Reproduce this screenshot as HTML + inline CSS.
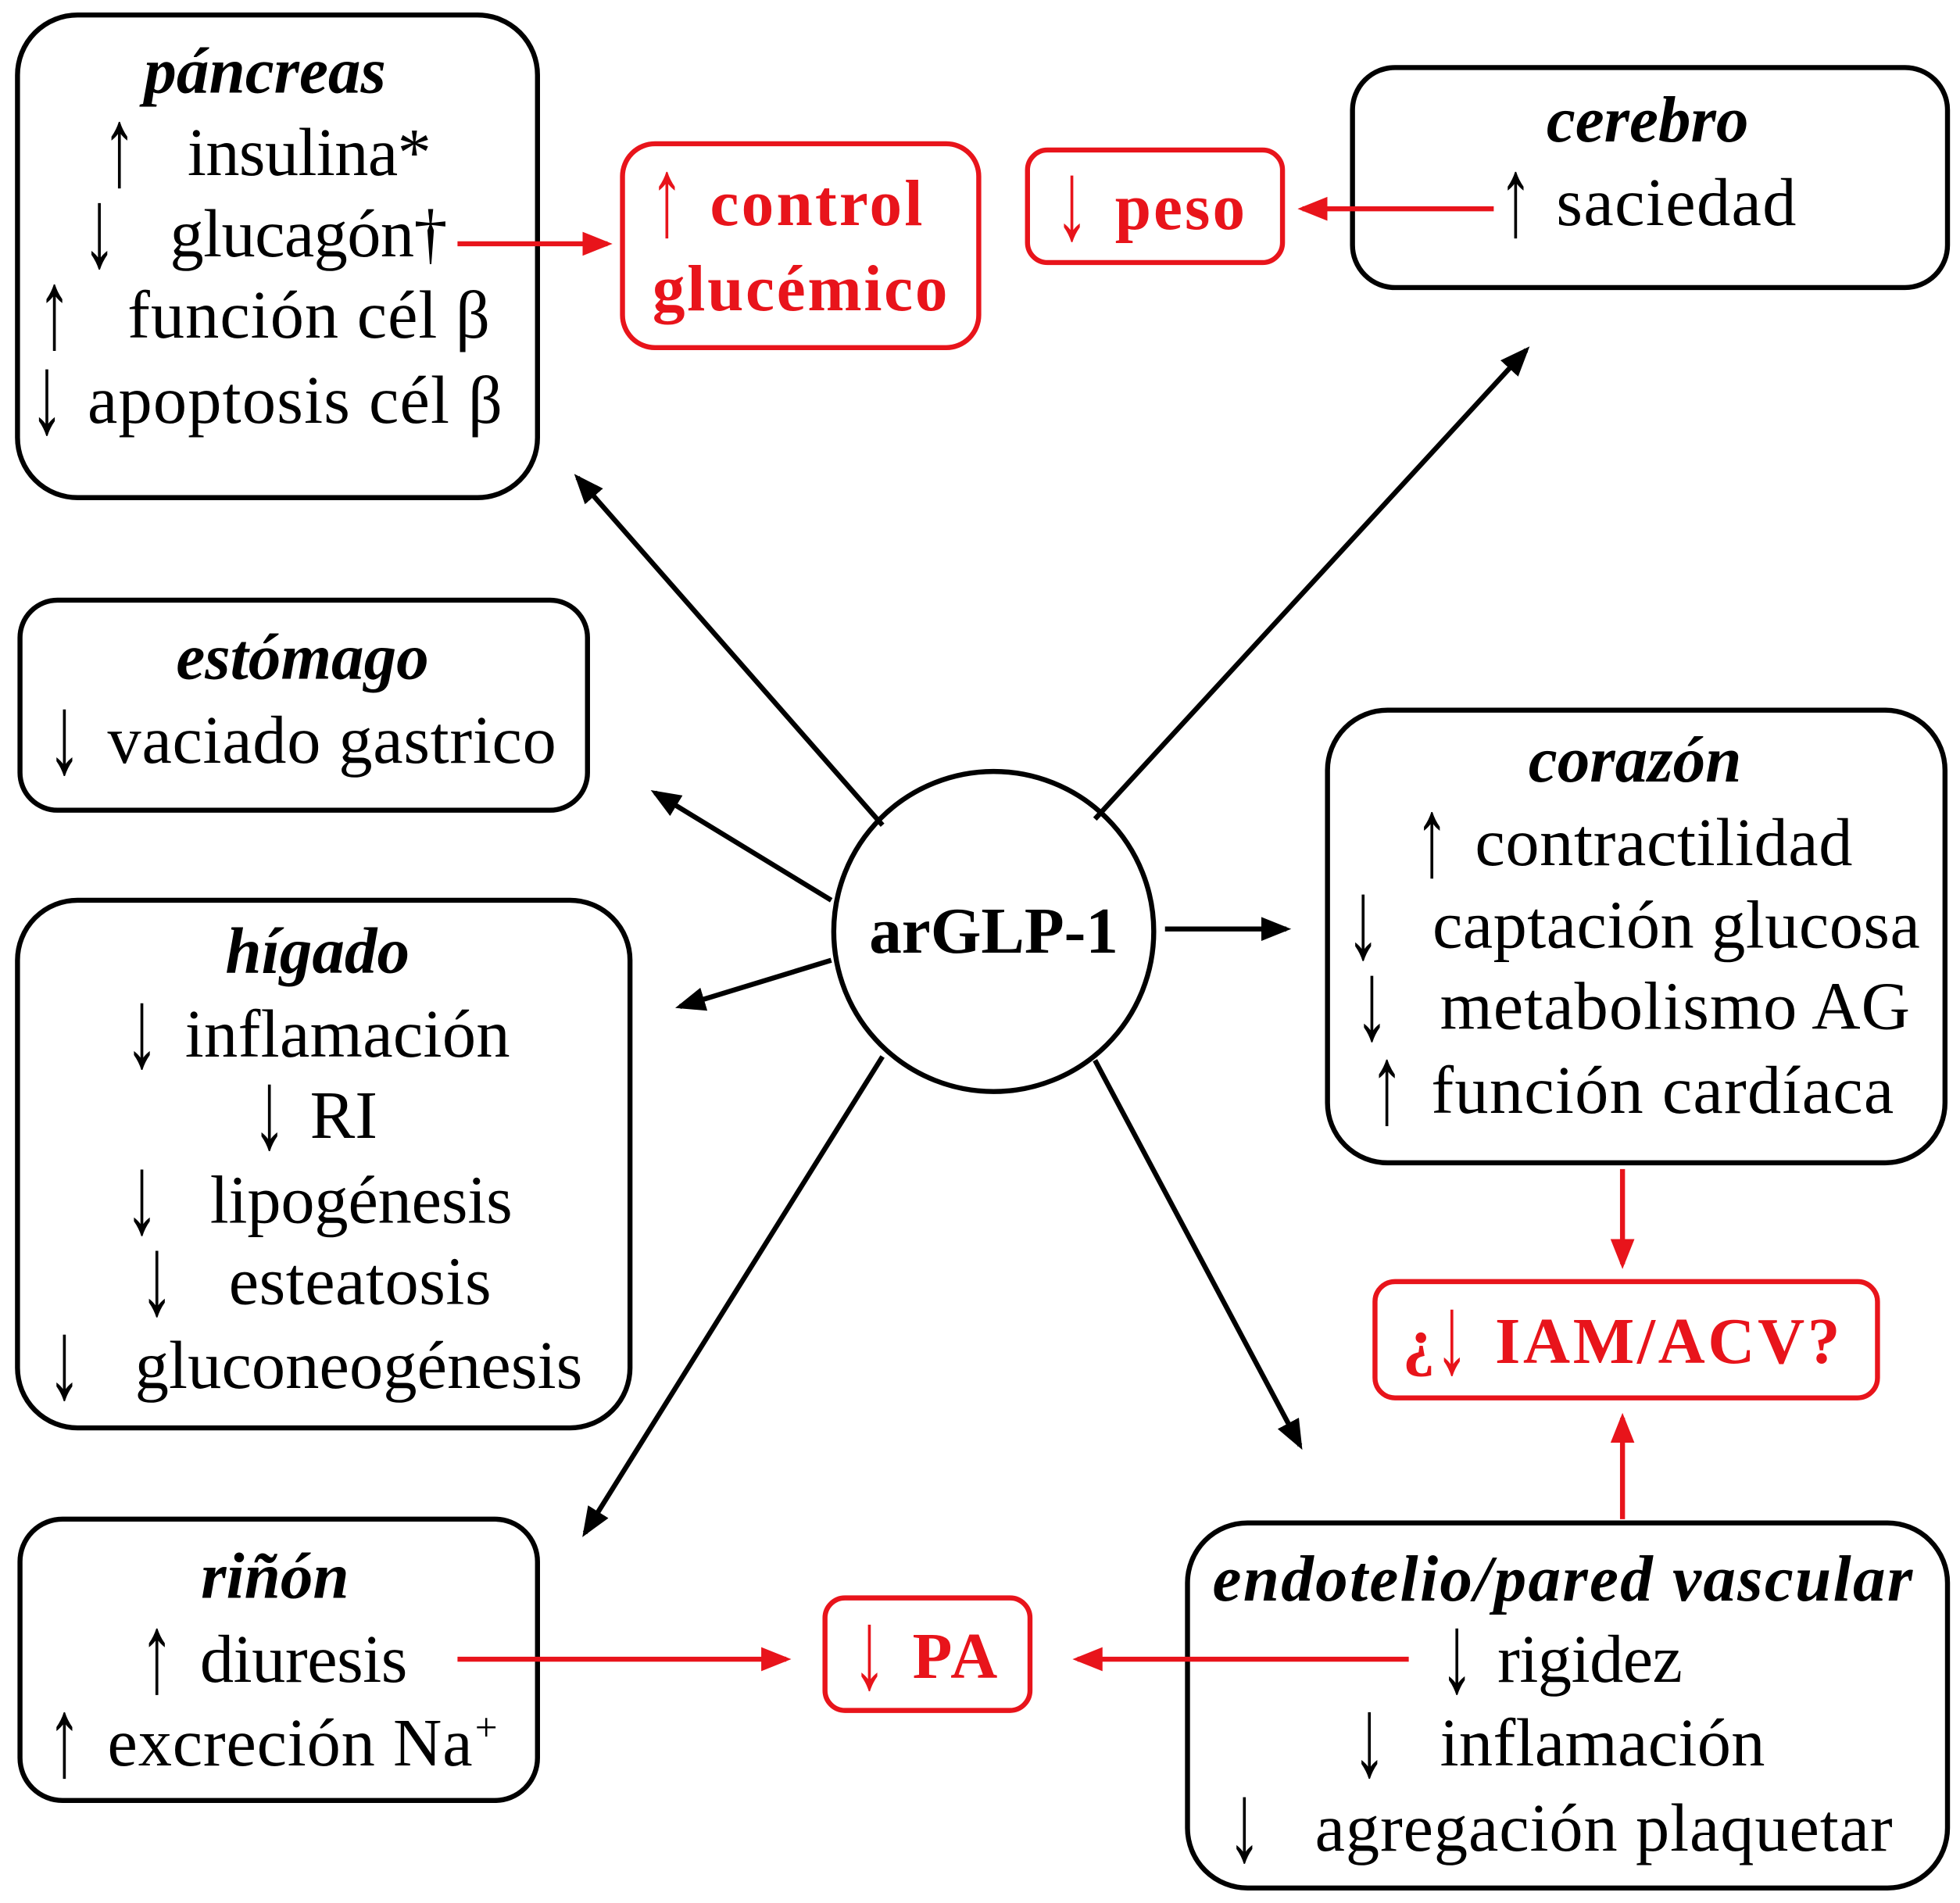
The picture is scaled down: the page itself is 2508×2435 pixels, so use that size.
<!DOCTYPE html>
<html><head><meta charset="utf-8"><style>
html,body{margin:0;padding:0;background:#fff;}
svg{display:block;}
text{font-family:"Liberation Serif",serif;font-size:54px;fill:#000;}
.t{font-weight:bold;font-style:italic;font-size:52px;}
.r{fill:#e8141b;font-weight:bold;font-size:52px;}
.a{font-size:90px;}
.ar{font-size:90px;fill:#e8141b;font-weight:bold;}
</style></head><body>
<svg width="2508" height="2435" viewBox="0 0 1568 1522" preserveAspectRatio="none" xmlns="http://www.w3.org/2000/svg">
<defs>
<marker id="ab" markerWidth="6" markerHeight="6" refX="5" refY="3" orient="auto" markerUnits="strokeWidth"><path d="M0,0.6 L6,3 L0,5.4 Z" fill="#000"/></marker>
<marker id="ar" markerWidth="6" markerHeight="6" refX="5" refY="3" orient="auto" markerUnits="strokeWidth"><path d="M0,0.6 L6,3 L0,5.4 Z" fill="#e8141b"/></marker>
</defs>
<g fill="none" stroke="#000" stroke-width="4">
<rect x="14" y="12" width="416" height="386" rx="48"/>
<rect x="1082" y="54" width="476" height="176" rx="34"/>
<rect x="16" y="480" width="454" height="168" rx="30"/>
<rect x="1062" y="568" width="494" height="362" rx="48"/>
<rect x="14" y="720" width="490" height="422" rx="48"/>
<rect x="16" y="1215" width="414" height="225" rx="34"/>
<rect x="950" y="1218" width="608" height="292" rx="48"/>
<circle cx="795" cy="745" r="128"/>
</g>
<g fill="none" stroke="#e8141b" stroke-width="4">
<rect x="498" y="115" width="285" height="163" rx="26"/>
<rect x="822" y="120" width="204" height="90" rx="16"/>
<rect x="1100" y="1025" width="402" height="93" rx="16"/>
<rect x="660" y="1278" width="164" height="90" rx="16"/>
</g>
<g stroke="#000" stroke-width="4" marker-end="url(#ab)">
<line x1="706" y1="660" x2="462" y2="382"/>
<line x1="876" y1="655" x2="1221" y2="280"/>
<line x1="665" y1="720" x2="524" y2="634"/>
<line x1="665" y1="768" x2="544" y2="805"/>
<line x1="932" y1="743" x2="1029" y2="743"/>
<line x1="706" y1="845" x2="468" y2="1226"/>
<line x1="876" y1="848" x2="1040" y2="1156"/>
</g>
<g stroke="#e8141b" stroke-width="4" marker-end="url(#ar)">
<line x1="366" y1="195" x2="486" y2="195"/>
<line x1="1195" y1="167" x2="1042" y2="167"/>
<line x1="1298" y1="935" x2="1298" y2="1011"/>
<line x1="1298" y1="1215" x2="1298" y2="1134"/>
<line x1="366" y1="1327" x2="629" y2="1327"/>
<line x1="1127" y1="1327" x2="862" y2="1327"/>
</g>
<!-- pancreas -->
<text class="t" x="212" y="74" text-anchor="middle">páncreas</text>
<text class="a" transform="translate(82,148) scale(0.6,1)">↑</text><text x="150" y="140" textLength="195">insulina*</text>
<text class="a" transform="translate(66,213) scale(0.6,1)">↓</text><text x="136" y="205" textLength="222">glucagón†</text>
<text class="a" transform="translate(30,278) scale(0.6,1)">↑</text><text x="102" y="270" textLength="290">función cél β</text>
<text class="a" transform="translate(24,346) scale(0.6,1)">↓</text><text x="70" y="338" textLength="332">apoptosis cél β</text>
<!-- control -->
<text class="ar" transform="translate(520,188) scale(0.6,1)">↑</text><text class="r" x="568" y="180" textLength="170">control</text>
<text class="r" x="522" y="248" textLength="236">glucémico</text>
<text class="ar" transform="translate(844,191) scale(0.6,1)">↓</text><text class="r" x="892" y="183" textLength="104">peso</text>
<!-- cerebro -->
<text class="t" x="1318" y="113" text-anchor="middle">cerebro</text>
<text class="a" transform="translate(1199,188) scale(0.6,1)">↑</text><text x="1245" y="180" textLength="192">saciedad</text>
<!-- estomago -->
<text class="t" x="242" y="543" text-anchor="middle">estómago</text>
<text class="a" transform="translate(38,618) scale(0.6,1)">↓</text><text x="86" y="610" textLength="359">vaciado gastrico</text>
<!-- corazon -->
<text class="t" x="1308" y="625" text-anchor="middle">corazón</text>
<text class="a" transform="translate(1132,700) scale(0.6,1)">↑</text><text x="1180" y="692" textLength="302">contractilidad</text>
<text class="a" transform="translate(1077,766) scale(0.6,1)">↓</text><text x="1146" y="758" textLength="390">captación glucosa</text>
<text class="a" transform="translate(1084,831) scale(0.6,1)">↓</text><text x="1152" y="823" textLength="376">metabolismo AG</text>
<text class="a" transform="translate(1096,898) scale(0.6,1)">↑</text><text x="1145" y="890" textLength="370">función cardíaca</text>
<!-- higado -->
<text class="t" x="254" y="778" text-anchor="middle">hígado</text>
<text class="a" transform="translate(100,853) scale(0.6,1)">↓</text><text x="148" y="845" textLength="260">inflamación</text>
<text class="a" transform="translate(202,918) scale(0.6,1)">↓</text><text x="248" y="910">RI</text>
<text class="a" transform="translate(100,986) scale(0.6,1)">↓</text><text x="168" y="978" textLength="242">lipogénesis</text>
<text class="a" transform="translate(112,1051) scale(0.6,1)">↓</text><text x="183" y="1043" textLength="210">esteatosis</text>
<text class="a" transform="translate(38,1118) scale(0.6,1)">↓</text><text x="108" y="1110" textLength="358">gluconeogénesis</text>
<!-- IAM -->
<text class="r" x="1122" y="1090">¿</text><text class="ar" transform="translate(1148,1098) scale(0.6,1)">↓</text><text class="r" x="1196" y="1090" textLength="276">IAM/ACV?</text>
<!-- rinon -->
<text class="t" x="220" y="1278" text-anchor="middle">riñón</text>
<text class="a" transform="translate(112,1353) scale(0.6,1)">↑</text><text x="160" y="1345" textLength="166">diuresis</text>
<text class="a" transform="translate(38,1420) scale(0.6,1)">↑</text><text x="86" y="1412" textLength="292">excreción Na</text><text x="380" y="1392" style="font-size:32px">+</text>
<!-- PA -->
<text class="ar" transform="translate(682,1350) scale(0.6,1)">↓</text><text class="r" x="730" y="1342" textLength="68">PA</text>
<!-- endotelio -->
<text class="t" x="970" y="1280" textLength="560">endotelio/pared vascular</text>
<text class="a" transform="translate(1152,1353) scale(0.6,1)">↓</text><text x="1198" y="1345" textLength="148">rigidez</text>
<text class="a" transform="translate(1082,1420) scale(0.6,1)">↓</text><text x="1152" y="1412" textLength="260">inflamación</text>
<text class="a" transform="translate(982,1488) scale(0.6,1)">↓</text><text x="1052" y="1480" textLength="462">agregación plaquetar</text>
<!-- center -->
<text x="795" y="762" text-anchor="middle" style="font-weight:bold;font-size:52px">arGLP-1</text>
</svg>
</body></html>
